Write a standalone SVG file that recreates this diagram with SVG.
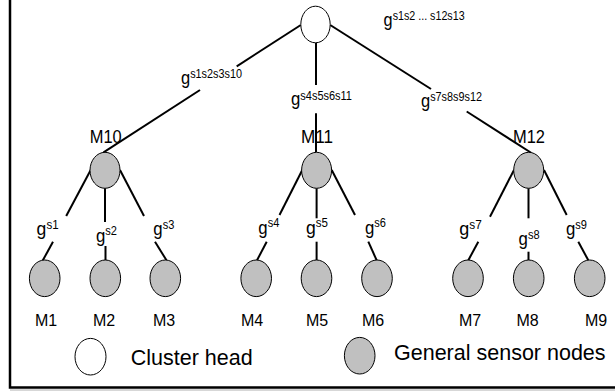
<svg xmlns="http://www.w3.org/2000/svg" width="615" height="391" viewBox="0 0 615 391">
<style>
  .bg { fill: #ffffff; }
  .frame { fill: none; stroke: #000; stroke-width: 2.5; }
  .edge { stroke: #000; stroke-width: 2; stroke-linecap: butt; fill: none; }
  .ch { fill: #ffffff; stroke: #000; stroke-width: 1; }
  .sn { fill: #c0c0c0; stroke: #000; stroke-width: 1; }
  text { font-family: "Liberation Sans", Arial, "Helvetica", sans-serif; fill: #000; }
  .g { font-size: 19px; }
  .sup { font-size: 12.5px; }
  .mid { font-size: 18.5px; text-anchor: middle; }
  .leaf { font-size: 16px; text-anchor: middle; }
  .legend { font-size: 21.5px; }
</style>
<rect class="bg" x="0" y="0" width="615" height="391"/>
<path class="frame" d="M10,0 V387.5 H615"/>
<line x1="10" y1="390" x2="615" y2="390" stroke="#b0b0b0" stroke-width="1"/>

<g id="connectors">
  <line class="edge" x1="300.8" y1="25" x2="236.7" y2="66.3"/>
  <line class="edge" x1="200" y1="90" x2="103.5" y2="152.3"/>
  <line class="edge" x1="316" y1="42.8" x2="316" y2="85"/>
  <line class="edge" x1="316" y1="113.3" x2="316" y2="152.3"/>
  <line class="edge" x1="330.2" y1="25" x2="431" y2="89"/>
  <line class="edge" x1="466.7" y1="111.5" x2="531.5" y2="153"/>

  <line class="edge" x1="90.7" y1="170" x2="66.2" y2="216"/>
  <line class="edge" x1="53" y1="241.7" x2="42.7" y2="260.6"/>
  <line class="edge" x1="105" y1="188.3" x2="105" y2="222"/>
  <line class="edge" x1="105.5" y1="246" x2="105.5" y2="260"/>
  <line class="edge" x1="120" y1="170" x2="144" y2="216"/>
  <line class="edge" x1="155" y1="241.7" x2="166.5" y2="260.3"/>

  <line class="edge" x1="302.3" y1="170" x2="279.5" y2="215"/>
  <line class="edge" x1="266.7" y1="241.7" x2="257" y2="260.3"/>
  <line class="edge" x1="316.6" y1="188.3" x2="316.6" y2="218.3"/>
  <line class="edge" x1="316.6" y1="241.7" x2="316.6" y2="260"/>
  <line class="edge" x1="331.7" y1="170" x2="355" y2="215"/>
  <line class="edge" x1="368.3" y1="241.7" x2="376.7" y2="260.3"/>

  <line class="edge" x1="514" y1="170" x2="490" y2="216.7"/>
  <line class="edge" x1="478.3" y1="241.7" x2="468.3" y2="260.3"/>
  <line class="edge" x1="528.5" y1="188.3" x2="528.5" y2="218.3"/>
  <line class="edge" x1="528.5" y1="251.7" x2="528.5" y2="260"/>
  <line class="edge" x1="544" y1="170" x2="566.7" y2="215"/>
  <line class="edge" x1="578.3" y1="241.7" x2="588.3" y2="260.3"/>

  <g id="edge-labels">
    <text x="383.6" y="26.2" textLength="81" lengthAdjust="spacingAndGlyphs"><tspan class="g">g</tspan><tspan class="sup" dy="-6.5">s1s2 ... s12s13</tspan></text>
    <text x="181" y="84" textLength="61" lengthAdjust="spacingAndGlyphs"><tspan class="g">g</tspan><tspan class="sup" dy="-6.5">s1s2s3s10</tspan></text>
    <text x="291" y="105" textLength="61" lengthAdjust="spacingAndGlyphs"><tspan class="g">g</tspan><tspan class="sup" dy="-5.5">s4s5s6s11</tspan></text>
    <text x="421" y="106.5" textLength="61" lengthAdjust="spacingAndGlyphs"><tspan class="g">g</tspan><tspan class="sup" dy="-5.5">s7s8s9s12</tspan></text>

    <text x="36.6" y="235" textLength="22" lengthAdjust="spacingAndGlyphs"><tspan class="g">g</tspan><tspan class="sup" dy="-6.5">s1</tspan></text>
    <text x="96" y="241.5" textLength="21" lengthAdjust="spacingAndGlyphs"><tspan class="g">g</tspan><tspan class="sup" dy="-6.5">s2</tspan></text>
    <text x="153.3" y="235" textLength="21" lengthAdjust="spacingAndGlyphs"><tspan class="g">g</tspan><tspan class="sup" dy="-6.5">s3</tspan></text>
    <text x="258.3" y="233.5" textLength="21" lengthAdjust="spacingAndGlyphs"><tspan class="g">g</tspan><tspan class="sup" dy="-6.5">s4</tspan></text>
    <text x="306" y="233.5" textLength="22" lengthAdjust="spacingAndGlyphs"><tspan class="g">g</tspan><tspan class="sup" dy="-6.5">s5</tspan></text>
    <text x="365" y="233.5" textLength="21" lengthAdjust="spacingAndGlyphs"><tspan class="g">g</tspan><tspan class="sup" dy="-6.5">s6</tspan></text>
    <text x="459.3" y="235" textLength="22.5" lengthAdjust="spacingAndGlyphs"><tspan class="g">g</tspan><tspan class="sup" dy="-6.5">s7</tspan></text>
    <text x="518.6" y="245" textLength="21" lengthAdjust="spacingAndGlyphs"><tspan class="g">g</tspan><tspan class="sup" dy="-6.5">s8</tspan></text>
    <text x="566" y="235" textLength="21" lengthAdjust="spacingAndGlyphs"><tspan class="g">g</tspan><tspan class="sup" dy="-6.5">s9</tspan></text>
  </g>
</g>

<g id="cluster-head">
  <ellipse class="ch" cx="315.5" cy="24.5" rx="14.7" ry="18.3"/>
</g>

<g id="M10">
  <ellipse class="sn" cx="105" cy="170.3" rx="15" ry="18"/>
  <text class="mid" x="105.7" y="142.7" textLength="32" lengthAdjust="spacingAndGlyphs">M10</text>
</g>
<g id="M11">
  <ellipse class="sn" cx="316.6" cy="170.3" rx="15" ry="18"/>
  <text class="mid" x="317" y="142.7" textLength="32" lengthAdjust="spacingAndGlyphs">M11</text>
</g>
<g id="M12">
  <ellipse class="sn" cx="528.7" cy="170.3" rx="15" ry="18"/>
  <text class="mid" x="529" y="142.7" textLength="32" lengthAdjust="spacingAndGlyphs">M12</text>
</g>

<g id="M1">
  <ellipse class="sn" cx="44.7" cy="278.3" rx="15.3" ry="18.3"/>
  <text class="leaf" x="46" y="326">M1</text>
</g>
<g id="M2">
  <ellipse class="sn" cx="105.3" cy="278.3" rx="15.3" ry="18.3"/>
  <text class="leaf" x="104" y="326">M2</text>
</g>
<g id="M3">
  <ellipse class="sn" cx="165.3" cy="278.3" rx="15.3" ry="18.3"/>
  <text class="leaf" x="164" y="326">M3</text>
</g>
<g id="M4">
  <ellipse class="sn" cx="256.2" cy="278.3" rx="15.3" ry="18.3"/>
  <text class="leaf" x="252" y="326">M4</text>
</g>
<g id="M5">
  <ellipse class="sn" cx="316.5" cy="278.3" rx="15.3" ry="18.3"/>
  <text class="leaf" x="317" y="326">M5</text>
</g>
<g id="M6">
  <ellipse class="sn" cx="377" cy="278.3" rx="15.3" ry="18.3"/>
  <text class="leaf" x="373" y="326">M6</text>
</g>
<g id="M7">
  <ellipse class="sn" cx="468" cy="278.3" rx="15.3" ry="18.3"/>
  <text class="leaf" x="470" y="326">M7</text>
</g>
<g id="M8">
  <ellipse class="sn" cx="528.7" cy="278.3" rx="15.3" ry="18.3"/>
  <text class="leaf" x="527.5" y="326">M8</text>
</g>
<g id="M9">
  <ellipse class="sn" cx="589.7" cy="278.3" rx="15.3" ry="18.3"/>
  <text class="leaf" x="596" y="326">M9</text>
</g>

<g id="legend">
  <ellipse class="ch" cx="90.5" cy="356.7" rx="15.5" ry="18.3"/>
  <text class="legend" x="130.7" y="365">Cluster head</text>
  <ellipse class="sn" cx="359.7" cy="355.7" rx="15.3" ry="18.3"/>
  <text class="legend" x="394" y="359.5">General sensor nodes</text>
</g>
</svg>
